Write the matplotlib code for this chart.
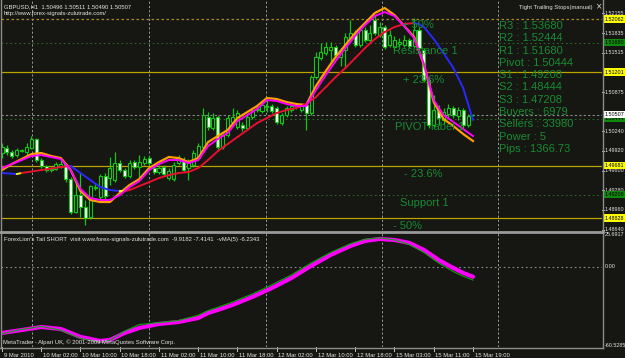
import numpy as np
import matplotlib
matplotlib.use("Agg")
import matplotlib.pyplot as plt
from matplotlib import font_manager
from matplotlib.transforms import blended_transform_factory
from matplotlib.collections import LineCollection
from matplotlib.lines import Line2D

# ---------------- data ----------------
time_labels = ["9 Mar 2010", "10 Mar 02:00", "10 Mar 10:00", "10 Mar 18:00", "11 Mar 02:00",
               "11 Mar 10:00", "11 Mar 18:00", "12 Mar 02:00", "12 Mar 10:00", "12 Mar 18:00",
               "15 Mar 03:00", "15 Mar 11:00", "15 Mar 19:00"]
time_label_bars = [0, 8, 16, 24, 32, 40, 48, 56, 64, 72, 80, 88, 96]

opens = [1.49885, 1.49966, 1.49901, 1.49852, 1.49917, 1.49901, 1.49966, 1.50112, 1.49771, 1.49673,
         1.49608, 1.49625, 1.49657, 1.49706, 1.49462, 1.48926, 1.49202, 1.49007, 1.48845, 1.49316,
         1.49170, 1.49511, 1.49478, 1.49446, 1.49722, 1.49608, 1.49511, 1.49738, 1.49657, 1.49722,
         1.49803, 1.49641, 1.49576, 1.49657, 1.49478, 1.49462, 1.49722, 1.49771, 1.49641, 1.49690,
         1.49803, 1.49982, 1.50470, 1.50291, 1.50470, 1.49982, 1.50177, 1.50389, 1.50307, 1.50340,
         1.50291, 1.50470, 1.50584, 1.50567, 1.50649, 1.50649, 1.50616, 1.50372, 1.50502, 1.50584,
         1.50632, 1.50584, 1.50665, 1.50535, 1.51119, 1.51428, 1.51510, 1.51559, 1.51607, 1.51445,
         1.51559, 1.51753, 1.51835, 1.51640, 1.51884, 1.51721, 1.52046, 1.51802, 1.51932, 1.51640,
         1.51607, 1.51656, 1.51640, 1.51721, 1.51623, 1.51884, 1.51559, 1.51071, 1.50340, 1.50584,
         1.50421, 1.50519, 1.50616, 1.50486, 1.50584, 1.50340, 1.50496]
closes = [1.49982, 1.49901, 1.49836, 1.49933, 1.49933, 1.49982, 1.50112, 1.49771, 1.49673, 1.49608,
          1.49625, 1.49706, 1.49706, 1.49462, 1.48926, 1.49202, 1.49007, 1.48828, 1.49348, 1.49332,
          1.49511, 1.49186, 1.49641, 1.49722, 1.49608, 1.49511, 1.49722, 1.49657, 1.49738, 1.49787,
          1.49722, 1.49576, 1.49641, 1.49543, 1.49592, 1.49690, 1.49803, 1.49608, 1.49738, 1.49885,
          1.49998, 1.50502, 1.50307, 1.50454, 1.49982, 1.50177, 1.50454, 1.50470, 1.50535, 1.50291,
          1.50470, 1.50567, 1.50600, 1.50665, 1.50632, 1.50567, 1.50389, 1.50502, 1.50616, 1.50649,
          1.50665, 1.50665, 1.50535, 1.51119, 1.51445, 1.51526, 1.51607, 1.51607, 1.51477, 1.51526,
          1.51770, 1.51835, 1.51640, 1.51884, 1.51721, 1.51835, 1.51835, 1.51932, 1.51607, 1.51802,
          1.51721, 1.51689, 1.51721, 1.51623, 1.51884, 1.51591, 1.51071, 1.50340, 1.50584, 1.50454,
          1.50551, 1.50616, 1.50502, 1.50584, 1.50340, 1.50486, 1.50507]
highs = [1.50047, 1.50015, 1.49933, 1.49966, 1.49950, 1.50047, 1.50161, 1.50128, 1.49803, 1.49690,
         1.49657, 1.49738, 1.49803, 1.49722, 1.49495, 1.49446, 1.49560, 1.49121, 1.49365, 1.49397,
         1.49543, 1.49560, 1.49820, 1.49901, 1.49771, 1.49641, 1.49771, 1.49771, 1.49852, 1.49836,
         1.49836, 1.49673, 1.49690, 1.49690, 1.49641, 1.49738, 1.49852, 1.49820, 1.49787, 1.49933,
         1.50047, 1.50616, 1.50551, 1.50535, 1.50502, 1.50210, 1.50502, 1.50616, 1.50584, 1.50389,
         1.50519, 1.50616, 1.50649, 1.50713, 1.50795, 1.50681, 1.50649, 1.50535, 1.50649, 1.50681,
         1.50697, 1.50697, 1.50697, 1.51152, 1.51526, 1.51672, 1.51689, 1.51689, 1.51640, 1.51591,
         1.51835, 1.52046, 1.51884, 1.51948, 1.51932, 1.51965, 1.52127, 1.52014, 1.51965, 1.51884,
         1.51786, 1.51753, 1.51802, 1.51753, 1.52079, 1.51932, 1.51591, 1.51103, 1.50827, 1.50665,
         1.50616, 1.50681, 1.50649, 1.50632, 1.50616, 1.50519, 1.50511]
lows = [1.49803, 1.49852, 1.49803, 1.49820, 1.49901, 1.49852, 1.49950, 1.49738, 1.49641, 1.49576,
        1.49576, 1.49608, 1.49641, 1.49413, 1.48893, 1.48910, 1.48845, 1.48715, 1.48812, 1.49283,
        1.49137, 1.49137, 1.49365, 1.49413, 1.49576, 1.49478, 1.49478, 1.49625, 1.49446, 1.49690,
        1.49690, 1.49543, 1.49543, 1.49511, 1.49446, 1.49430, 1.49690, 1.49576, 1.49446, 1.49657,
        1.49771, 1.49966, 1.50259, 1.50259, 1.49933, 1.49950, 1.50145, 1.50356, 1.50275, 1.50242,
        1.50259, 1.50437, 1.50551, 1.50535, 1.50551, 1.50535, 1.50356, 1.50340, 1.50470, 1.50551,
        1.50600, 1.50551, 1.50259, 1.50502, 1.51087, 1.51396, 1.51477, 1.51347, 1.51445, 1.51299,
        1.51266, 1.51721, 1.51607, 1.51607, 1.51689, 1.51689, 1.51802, 1.51770, 1.51575, 1.51607,
        1.51559, 1.51591, 1.51607, 1.51591, 1.51591, 1.51559, 1.51038, 1.50291, 1.50291, 1.50340,
        1.50356, 1.50454, 1.50454, 1.50421, 1.50291, 1.50307, 1.50490]

fast_idx = list(range(0, 97, 2))
fast_orange = [1.49608, 1.49706, 1.49787, 1.49868, 1.49885, 1.49836, 1.49803, 1.49608, 1.49267, 1.49121,
               1.49089, 1.49089, 1.49235, 1.49365, 1.49462, 1.49641, 1.49738, 1.49820, 1.49803, 1.49738,
               1.49803, 1.50063, 1.50161, 1.50259, 1.50454, 1.50551, 1.50649, 1.50779, 1.50762, 1.50713,
               1.50681, 1.50665, 1.50974, 1.51217, 1.51445, 1.51640, 1.51835, 1.51997, 1.52160, 1.52241,
               1.52127, 1.51948, 1.51770, 1.51315, 1.50713, 1.50437, 1.50324, 1.50194, 1.50080]
fast_magenta = [1.49641, 1.49706, 1.49771, 1.49836, 1.49852, 1.49820, 1.49787, 1.49608, 1.49300, 1.49154,
                1.49121, 1.49121, 1.49202, 1.49332, 1.49430, 1.49608, 1.49706, 1.49771, 1.49771, 1.49722,
                1.49771, 1.49998, 1.50112, 1.50210, 1.50405, 1.50502, 1.50600, 1.50746, 1.50730, 1.50681,
                1.50649, 1.50649, 1.50909, 1.51152, 1.51380, 1.51591, 1.51786, 1.51965, 1.52111, 1.52176,
                1.52111, 1.51948, 1.51753, 1.51331, 1.50746, 1.50502, 1.50389, 1.50275, 1.50161]

trend_idx = [0, 3, 4, 8, 12, 14, 16, 18, 20, 22, 24, 25] + list(range(26, 85, 2)) + [85] + list(range(86, 97, 2))
trend_ma = [1.49560, 1.49543, 1.49560, 1.49608, 1.49657, 1.49673, 1.49560, 1.49446, 1.49332, 1.49283,
            1.49267, 1.49270, 1.49283, 1.49348, 1.49413, 1.49478, 1.49527, 1.49560, 1.49576, 1.49641,
            1.49771, 1.49917, 1.50031, 1.50145, 1.50259, 1.50372, 1.50454, 1.50535, 1.50584, 1.50616,
            1.50681, 1.50795, 1.50957, 1.51119, 1.51266, 1.51428, 1.51591, 1.51737, 1.51851, 1.51932,
            1.51981, 1.51997, 1.51981, 1.51932, 1.51737, 1.51510, 1.51266, 1.50941, 1.50421]

tail_idx = [0, 4, 8, 12, 16, 20, 22, 25, 28, 32, 36, 40, 42, 44, 47, 51, 55, 59, 63, 67, 71, 74, 77, 80,
            83, 86, 89, 92, 94, 96]
tail_main = [-49.9, -47.7, -45.4, -46.9, -52.9, -56.0, -55.2, -49.9, -46.1, -43.1, -41.6, -38.6, -34.8,
             -32.5, -28.7, -22.7, -15.9, -8.3, 0.8, 9.1, 15.9, 19.7, 21.2, 20.4, 18.2, 12.9, 5.3, -0.8,
             -4.5, -7.4]
tail_signal = [-50.5, -47.2, -45.0, -47.8, -54.0, -57.0, -55.5, -48.5, -43.5, -42.0, -40.5, -36.5, -33.0,
               -30.5, -26.5, -20.5, -13.5, -6.0, 3.0, 11.0, 17.5, 21.0, 22.0, 20.5, 17.0, 11.0, 3.0, -3.5,
               -7.0, -9.9]

fib_levels = [1.52062, 1.51201, 1.49681, 1.48828]
pivot_levels = [1.51680, 1.50444, 1.49208]
bid_price = 1.50507
price_grid = [1.52155, 1.51835, 1.51515, 1.50875, 1.50240, 1.49920, 1.49600,
              1.49280, 1.48960, 1.48640]
ind_top, ind_bottom = 25.6917, -60.5285

info_lines = ["R3 : 1.53680", "R2 : 1.52444", "R1 : 1.51680", "Pivot : 1.50444", "S1 : 1.49208",
              "S2 : 1.48444", "S3 : 1.47208", "Buyers : 6979", "Sellers : 33980", "Power : 5",
              "Pips : 1366.73"]
level_texts = ["+ 50%", "Resistance 1", "+ 23.6%", "PIVOT label 1", "- 23.6%", "Support 1", "- 50%"]

# ---------------- style ----------------
BG = "#161612"
CANDLE = "#12c812"
TXTG = "#168c32"
WHITE = "#e4e4e4"
GRID = "#9a9a9a"

names = {f.name for f in font_manager.fontManager.ttflist}
if "Liberation Sans Narrow" in names:
    SMALL, SMALLSZ, AXSZ = "Liberation Sans Narrow", 4.9, 4.5
else:
    SMALL, SMALLSZ, AXSZ = "Liberation Sans", 4.2, 3.9
BIG = "Liberation Sans"

W, H = 625, 358
fig = plt.figure(figsize=(W / 100, H / 100), dpi=100, facecolor=BG)


def fx(px):
    return px / W


def fy(py):
    return 1 - py / H


ax = fig.add_axes([fx(1), fy(230), fx(602) - fx(1), fy(1) - fy(230)], facecolor=BG)
axi = fig.add_axes([fx(1), fy(347), fx(602) - fx(1), fy(233) - fy(347)], facecolor=BG)
XL = (-0.204, 122.3)
for a in (ax, axi):
    a.set_xlim(*XL)
    a.set_xticks([])
    a.set_yticks([])
    for s in a.spines.values():
        s.set_visible(False)
ax.set_ylim(1.48634, 1.52355)
axi.set_ylim(ind_bottom, ind_top)

# vertical grid
for gx in [6.1, 30.0, 53.8, 77.5, 101.1]:
    for a in (ax, axi):
        a.axvline(gx, color=GRID, lw=0.7, ls=(0, (2.2, 2.2)), zorder=0.5)

# horizontal levels
for i, lv in enumerate(fib_levels):
    if i == 0:
        ax.axhline(lv, color="#a88c1c", lw=0.9, ls=(0, (2, 2)), zorder=0.6)
    else:
        ax.axhline(lv, color="#bca400", lw=0.9, zorder=0.6)
for lv in pivot_levels:
    ax.axhline(lv, color="#2a6a2a", lw=0.8, ls=(0, (1.5, 2.5)), zorder=0.6)
ax.axhline(bid_price, color="#8a8a8a", lw=0.8, ls=(0, (2, 2)), zorder=0.6)

# candles
o = np.array(opens); c = np.array(closes); h = np.array(highs); l = np.array(lows)
idx = np.arange(len(o))
up = c >= o
ax.vlines(idx, l, h, color=CANDLE, lw=0.9, zorder=2)
bot = np.minimum(o, c)
hgt = np.maximum(np.abs(c - o), 0.00006)
ax.bar(idx, hgt, bottom=bot, width=0.62, color=[BG if u else "#ffffff" for u in up],
       edgecolor=CANDLE, linewidth=0.8, zorder=3)

# moving averages
ax.plot(fast_idx, fast_orange, color="#ffa000", lw=1.6, zorder=4, solid_joinstyle="round")
ax.plot(fast_idx, fast_magenta, color="#ff00ff", lw=1.4, zorder=5, solid_joinstyle="round")
tx = np.array(trend_idx, float); ty = np.array(trend_ma)
segs, cols = [], []
prev_dir = None
for k in range(len(tx) - 1):
    d = ty[k + 1] - ty[k]
    cur = "up" if d >= 0 else "down"
    if cur == "up":
        col = "#ffff00" if prev_dir == "down" else "#e8102e"
    else:
        col = "#2828ff"
    segs.append([(tx[k], ty[k]), (tx[k + 1], ty[k + 1])])
    cols.append(col)
    prev_dir = cur
ax.add_collection(LineCollection(segs, colors=cols, linewidths=1.4, zorder=4.5, capstyle="round"))

# level texts in chart
lt_pos = [(81.5, 1.51965), (79.7, 1.51542), (81.7, 1.51071), (80.1, 1.50307), (81.9, 1.49543),
          (81.1, 1.49072), (79.7, 1.48699)]
for s, (px_, py_) in zip(level_texts, lt_pos):
    ax.text(px_, py_, s, color=TXTG, fontsize=8, family=BIG, va="center", ha="left", zorder=6)

# info block
for k, s in enumerate(info_lines):
    fig.text(fx(499), fy(26 + 12.3 * k), s, color=TXTG, fontsize=8, family=BIG, va="center", ha="left")

# indicator lines
axi.axhline(0, color="#8a8a8a", lw=0.8, ls=(0, (1.5, 2.5)))
axi.plot(tail_idx, tail_main, color="#ff00ff", lw=3.0, solid_capstyle="round", zorder=3)
axi.plot(tail_idx, tail_signal, color="#10a010", lw=0.8, zorder=4)

# frame lines
gc = "#8c8c8c"
fig.add_artist(Line2D([fx(602.5), fx(602.5)], [fy(0), fy(347.5)], color=gc, lw=1.0))
fig.add_artist(Line2D([fx(0.5), fx(0.5)], [fy(0), fy(347.5)], color=gc, lw=1.0))
fig.add_artist(Line2D([0, fx(602.5)], [fy(231.5), fy(231.5)], color="#9a9a9a", lw=2.0))
fig.add_artist(Line2D([0, fx(602.5)], [fy(347.5), fy(347.5)], color=gc, lw=1.0))

# price axis labels
tr = blended_transform_factory(ax.transAxes, ax.transData)
for p in price_grid:
    ax.plot([1.0, 1.004], [p, p], color=WHITE, lw=0.6, transform=tr, clip_on=False)
    ax.text(1.0045, p, f"{p:.5f}", transform=tr, color=WHITE, fontsize=AXSZ, family=SMALL,
            va="center", ha="left", clip_on=False)
box_labels = [(lv, "#ffff00") for lv in fib_levels] + [(lv, "#0f8a0f") for lv in pivot_levels] + \
             [(bid_price, "#ffffff")]
for p, fc in box_labels:
    ax.text(1.0045, p, f"{p:.5f}", transform=tr, color="#000000", fontsize=AXSZ, family=SMALL,
            va="center", ha="left", clip_on=False, zorder=10,
            bbox=dict(boxstyle="square,pad=0.2", fc=fc, ec="none"))

tri = blended_transform_factory(axi.transAxes, axi.transData)
for v, s in [(ind_top - 1.5, f"{ind_top:.4f}"), (0, "0.00"), (ind_bottom + 1.5, f"{ind_bottom:.4f}")]:
    axi.text(1.0045, v, s, transform=tri, color=WHITE, fontsize=AXSZ, family=SMALL,
             va="center", ha="left", clip_on=False)

# time axis
for b, s in zip(time_label_bars, time_labels):
    axi.plot([b, b], [0, -0.035], color=WHITE, lw=0.6,
             transform=blended_transform_factory(axi.transData, axi.transAxes), clip_on=False)
    axi.text(b + 0.35, -0.05, s, color=WHITE, fontsize=SMALLSZ, family=SMALL, va="top", ha="left",
             transform=blended_transform_factory(axi.transData, axi.transAxes), clip_on=False)

# header texts
fig.text(fx(4), fy(7), "GBPUSD,H1  1.50496 1.50511 1.50490 1.50507", color=WHITE, fontsize=SMALLSZ,
         family=SMALL, va="center", ha="left")
fig.text(fx(4), fy(14), "http://www.forex-signals-zulutrade.com/", color=WHITE, fontsize=SMALLSZ,
         family=SMALL, va="center", ha="left")
fig.text(fx(519), fy(7), "Tight Trailing Stops(manual)", color=WHITE, fontsize=SMALLSZ, family=SMALL,
         va="center", ha="left")
fig.text(fx(596), fy(7), "\u00d7", color=WHITE, fontsize=5.5, family="DejaVu Sans", va="center", ha="left")
fig.text(fx(4), fy(240), "ForexLion's Tail SHORT  visit www.forex-signals-zulutrade.com  -9.9182 -7.4141  "
         "-vMA(5) -6.2343", color=WHITE, fontsize=SMALLSZ, family=SMALL, va="center", ha="left")
fig.text(fx(3), fy(342), "MetaTrader - Alpari UK, \u00a9 2001-2009 MetaQuotes Software Corp.", color=WHITE,
         fontsize=SMALLSZ, family=SMALL, va="center", ha="left")

fig.savefig("out.png", dpi=100, facecolor=BG)
